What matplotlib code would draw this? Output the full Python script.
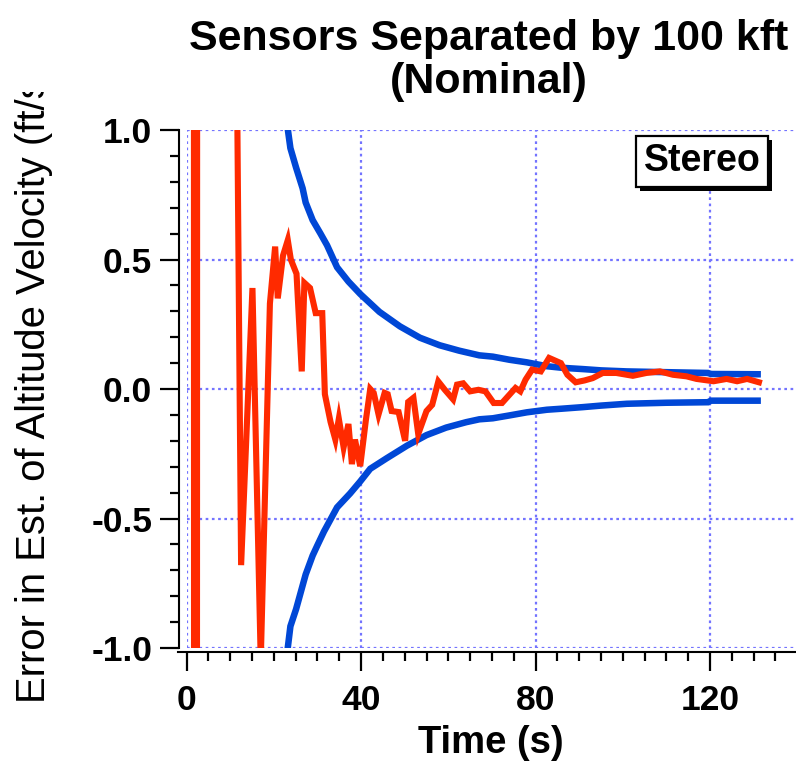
import matplotlib
matplotlib.use("Agg")
import matplotlib.pyplot as plt
import matplotlib.patheffects as pe
from matplotlib.ticker import MultipleLocator, FormatStrFormatter
from matplotlib.transforms import Bbox, TransformedBbox

# Fehler der Schätzung (rot) und Hüllkurve (blau)
t_err = [1.4, 2.0, 2.8, 11.4, 12.5, 15.1, 17.0, 19.1, 20.3, 20.9, 22.1, 23.2,
         23.9, 25.2, 26.4, 27.0, 28.3, 29.6, 31.1, 31.7, 33.0, 34.1, 34.9, 36.0,
         37.1, 37.9, 38.6, 39.8, 41.1, 42.1, 42.9, 44.0, 45.4, 46.1, 47.0, 48.6,
         50.1, 50.8, 52.0, 53.1, 55.0, 56.3, 57.7, 59.2, 61.1, 62.0, 63.4, 65.0,
         66.9, 68.5, 70.4, 72.3, 73.8, 75.4, 76.5, 77.7, 79.2, 81.2, 83.1, 85.8,
         87.3, 89.2, 91.2, 93.1, 95.4, 98.5, 102.3, 105.4, 108.5, 111.5, 114.6,
         116.9, 120.8, 123.8, 126.2, 128.5, 131.2]
err = [30, -30, 30, 1.5, -0.68, 0.39, -1.05, 0.33, 0.55, 0.35, 0.515, 0.575,
       0.50, 0.445, 0.068, 0.41, 0.39, 0.293, 0.293, -0.02, -0.127, -0.195,
       -0.115, -0.225, -0.135, -0.29, -0.195, -0.298, -0.12, 0.0, -0.015,
       -0.098, -0.015, -0.02, -0.085, -0.089, -0.2, -0.05, -0.034, -0.174,
       -0.085, -0.061, 0.029, -0.003, -0.04, 0.017, 0.022, -0.009, -0.003,
       -0.009, -0.054, -0.054, -0.026, 0.004, -0.009, 0.036, 0.075, 0.068,
       0.12, 0.10, 0.055, 0.026, 0.033, 0.042, 0.062, 0.062, 0.051, 0.062,
       0.068, 0.055, 0.049, 0.039, 0.030, 0.039, 0.030, 0.039, 0.026]

t_upper = [22.9, 23.8, 25.1, 26.6, 27.3, 28.9, 30.7, 32.2, 34.5, 37.1, 39.8,
           44.2, 48.9, 53.5, 58.0, 62.5, 67.1, 70.2, 74.0, 78.0, 82.6, 86.0,
           90.8, 95.0, 100.9, 110.0, 119.5, 120.2, 130.9]
upper = [1.04, 0.93, 0.855, 0.775, 0.72, 0.652, 0.60, 0.555, 0.47, 0.415,
         0.367, 0.298, 0.242, 0.198, 0.169, 0.148, 0.13, 0.125, 0.113, 0.103,
         0.088, 0.082, 0.077, 0.072, 0.068, 0.065, 0.062, 0.058, 0.057]

t_lower = [22.9, 23.8, 25.1, 26.2, 27.3, 28.9, 30.0, 31.5, 34.5, 37.5, 39.8,
           42.1, 45.9, 50.5, 55.0, 59.5, 64.1, 67.1, 70.2, 74.0, 78.0, 82.6,
           86.0, 90.8, 95.0, 100.9, 110.0, 119.5, 120.2, 130.9]
lower = [-1.04, -0.916, -0.85, -0.783, -0.716, -0.643, -0.603, -0.55, -0.457,
         -0.403, -0.357, -0.308, -0.267, -0.219, -0.178, -0.149, -0.128,
         -0.117, -0.113, -0.102, -0.09, -0.08, -0.076, -0.07, -0.064, -0.057,
         -0.053, -0.051, -0.045, -0.045]

plt.rcParams['font.family'] = ['Liberation Sans', 'DejaVu Sans']

fig = plt.figure(figsize=(7.96, 7.63), dpi=100)
ax = fig.add_axes([0.2344, 0.1507, 0.7656, 0.6789])

grid_col = '#7373ff'
ax.grid(True, which='major', color=grid_col, linestyle=(0, (1.2, 1.6)),
        linewidth=1.6)
ax.set_axisbelow(True)

ax.plot(t_upper, upper, color='#0047d6', linewidth=4.7, solid_joinstyle='miter')
ax.plot(t_lower, lower, color='#0047d6', linewidth=4.7, solid_joinstyle='miter')
ax.plot(t_err, err, color='#ff2a00', linewidth=4.4, solid_joinstyle='miter')

ax.set_xlim(0, 139.7)
ax.set_ylim(-1, 1)
ax.xaxis.set_major_locator(MultipleLocator(40))
ax.xaxis.set_minor_locator(MultipleLocator(5))
ax.yaxis.set_major_locator(MultipleLocator(0.5))
ax.yaxis.set_minor_locator(MultipleLocator(0.1))
ax.yaxis.set_major_formatter(FormatStrFormatter('%.1f'))

for s in ['top', 'right']:
    ax.spines[s].set_visible(False)
ax.spines['left'].set_position(('outward', 5.8))
ax.spines['bottom'].set_position(('outward', 3.0))
ax.spines['left'].set_linewidth(1.5)
ax.spines['bottom'].set_linewidth(1.5)
ax.spines['bottom'].set_bounds(-1.9, 139.7)

ax.tick_params(which='major', length=14, width=1.6, direction='out')
ax.tick_params(which='minor', length=6.5, width=1.6, direction='out')
ax.tick_params(axis='y', labelsize=25.5, pad=5)
ax.tick_params(axis='x', labelsize=25.5, pad=9)
for lab in ax.get_xticklabels() + ax.get_yticklabels():
    lab.set_fontweight('bold')

ax.set_xlabel('Time (s)', fontsize=27.5, fontweight='bold', labelpad=6)

# Titel in zwei Zeilen
fig.text(489 / 796, 1 - 50 / 763, 'Sensors Separated by 100 kft',
         fontsize=31, fontweight='bold', ha='center', va='baseline')
fig.text(489 / 796, 1 - 93 / 763, '(Nominal)',
         fontsize=31, fontweight='bold', ha='center', va='baseline')

ylab = fig.text(45 / 796, 60 / 763, 'Error in Est. of Altitude Velocity (ft/s)',
                rotation=90, rotation_mode='anchor', ha='left', va='baseline',
                fontsize=28.8)
ylab.set_clip_box(TransformedBbox(Bbox([[0, 0], [1, 1 - 92 / 763]]),
                                  fig.transFigure))
ylab.set_clip_on(True)

leg = ax.text(0.846, 0.94, 'Stereo', transform=ax.transAxes, fontsize=27,
              fontweight='bold', ha='center', va='center',
              bbox=dict(boxstyle='square,pad=0.2', fc='white', ec='black',
                        lw=1.6))
leg.get_bbox_patch().set_path_effects([
    pe.SimplePatchShadow(offset=(3, -3), shadow_rgbFace='black', alpha=1),
    pe.Normal()])

fig.savefig('out.png', dpi=100)
